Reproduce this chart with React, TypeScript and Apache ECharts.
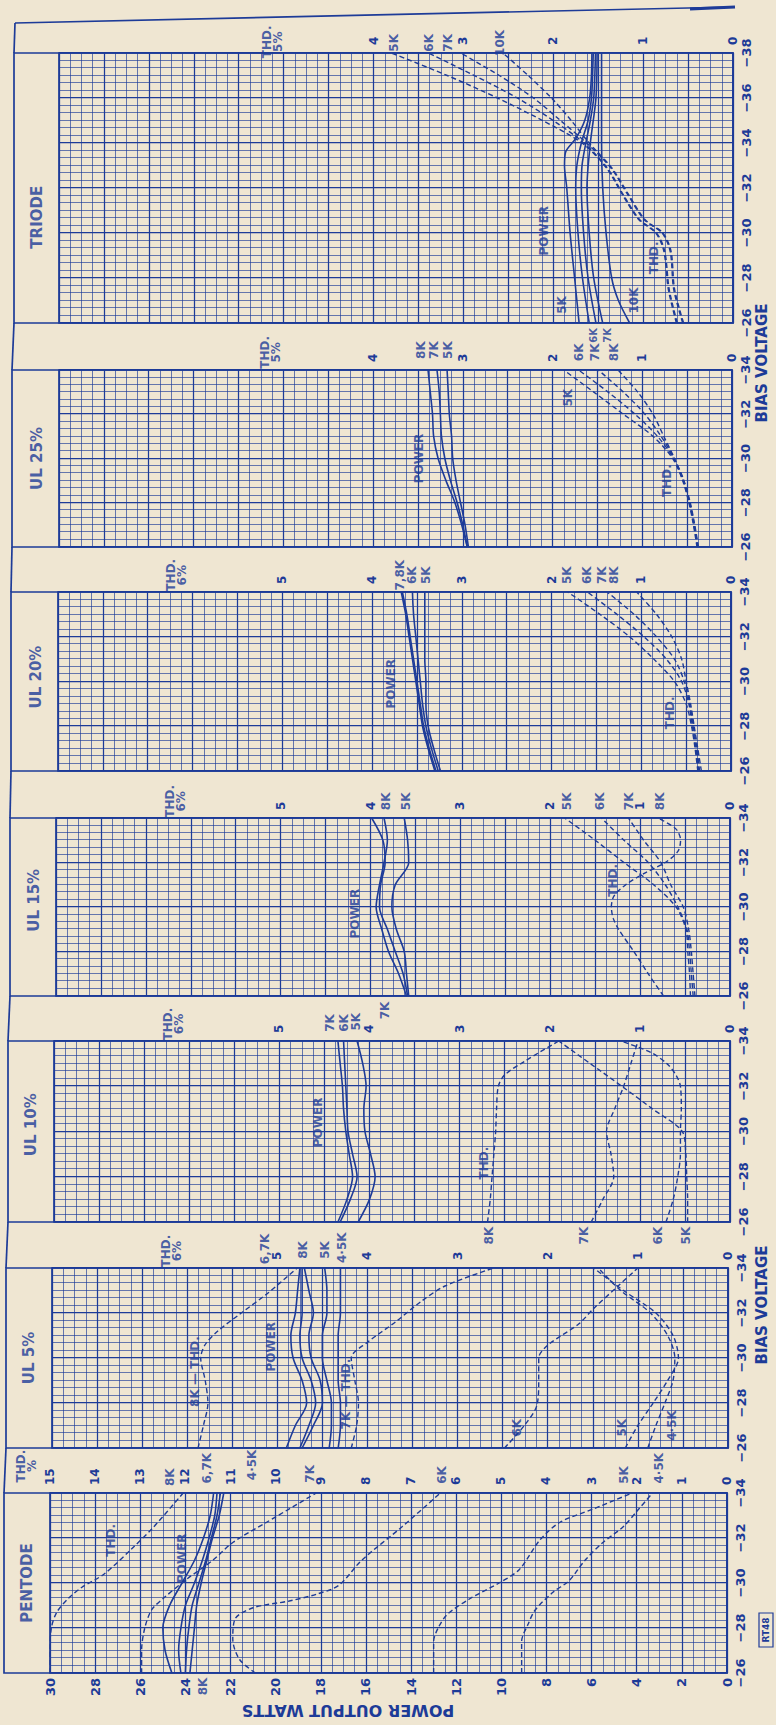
import React, { useEffect, useRef } from 'react';
import * as echarts from 'echarts';

const INK = '#1d3b98';
const PAPER = '#efe6d2';
const FONT = 'DejaVu Sans';

const PAGE_W = 776;
const PAGE_H = 1725;
// The chart is drawn upright (panels side by side) and the page turns it a quarter-turn anticlockwise.
const CHART_W = 1725;
const CHART_H = 776;

// ---------------- data ----------------
const PANEL_TITLES = ['PENTODE', 'UL 5%', 'UL 10%', 'UL 15%', 'UL 20%', 'UL 25%', 'TRIODE'];
const BIAS_MIN = [-34, -34, -34, -34, -34, -34, -38];
const THD_MAX = [15, 7.5, 7.5, 7.5, 7.5, 7.5, 7.5];
const THD_LABEL_MAX = [15, 5, 5, 5, 5, 4, 4];

// Pentode
const pentodePower8K = [[-26, 24.6], [-27, 24.9], [-28, 25.0], [-29, 24.7], [-30, 24.15], [-31, 23.6], [-32, 23.2], [-33, 22.9], [-34, 22.75]];
const pentodePower7K = [[-26, 24.2], [-27, 24.3], [-28, 24.2], [-29, 24.0], [-30, 23.6], [-31, 23.25], [-32, 22.95], [-33, 22.7], [-34, 22.6]];
const pentodePower6K = [[-26, 24.0], [-27, 23.95], [-28, 23.85], [-29, 23.7], [-30, 23.4], [-31, 23.1], [-32, 22.85], [-33, 22.6], [-34, 22.45]];
const pentodePower45K = [[-26, 23.8], [-27, 23.7], [-28, 23.6], [-29, 23.5], [-30, 23.3], [-31, 23.05], [-32, 22.8], [-33, 22.5], [-34, 22.3]];
const pentodeThd8K = [[-26, 15.0], [-27, 15.0], [-28, 14.97], [-28.7, 14.85], [-29.3, 14.6], [-29.8, 14.3], [-30.4, 13.8], [-31.5, 13.2], [-32.5, 12.7], [-34, 12.05]];
const pentodeThd7K = [[-26, 12.97], [-27, 12.97], [-28, 12.9], [-28.8, 12.75], [-29.3, 12.5], [-30.2, 11.95], [-31, 11.4], [-31.8, 10.95], [-32.7, 10.2], [-34, 9.1]];
const pentodeThd6K = [[-26, 10.45], [-26.6, 10.8], [-27.5, 10.95], [-28.4, 10.9], [-28.9, 10.5], [-29.2, 9.7], [-29.5, 9.1], [-29.9, 8.6], [-31, 8.1], [-32.5, 7.2], [-34, 6.35]];
const pentodeThd5K = [[-26, 6.5], [-27.4, 6.5], [-28, 6.4], [-28.6, 6.2], [-29.3, 5.7], [-30, 5.05], [-30.6, 4.6], [-31.9, 4.15], [-32.7, 3.7], [-33.3, 2.95], [-34, 2.1]];
const pentodeThd45K = [[-26, 4.55], [-27.4, 4.55], [-28.2, 4.4], [-28.8, 4.25], [-29.6, 3.85], [-30.1, 3.5], [-31, 3.15], [-31.8, 2.75], [-32.5, 2.3], [-33.3, 1.95], [-34, 1.65]];

// UL 5%
const ul5Power8K = [[-26, 19.6], [-27, 19.2], [-28, 18.7], [-29, 18.9], [-30, 19.3], [-31, 19.4], [-32, 19.2], [-33, 19.1], [-34, 19.0]];
const ul5Power7K = [[-26, 19.0], [-27, 18.6], [-28, 18.3], [-29, 18.5], [-30, 18.9], [-31, 19.0], [-32, 18.9], [-33, 18.9], [-34, 18.9]];
const ul5Power6K = [[-26, 18.9], [-27, 18.4], [-28, 18.0], [-29, 18.1], [-30, 18.5], [-31, 18.6], [-32, 18.4], [-33, 18.6], [-34, 18.8]];
const ul5Power5K = [[-26, 17.7], [-27, 17.6], [-28, 17.6], [-29, 17.8], [-30, 18.0], [-31, 18.0], [-32, 17.8], [-33, 17.8], [-34, 17.9]];
const ul5Power45K = [[-26, 17.3], [-27, 17.2], [-28, 17.2], [-29, 17.3], [-30, 17.3], [-31, 17.3], [-32, 17.2], [-33, 17.2], [-34, 17.2]];
const ul5Thd8K = [[-26, 5.88], [-27, 5.82], [-28, 5.77], [-29, 5.8], [-30, 5.85], [-30.6, 5.8], [-31.2, 5.66], [-32, 5.4], [-32.9, 5.1], [-34, 4.78]];
const ul5Thd7K = [[-26, 4.18], [-27, 4.12], [-28, 4.1], [-29, 4.14], [-30, 4.18], [-30.7, 4.0], [-31.6, 3.69], [-32.5, 3.41], [-33.2, 3.14], [-34, 2.6]];
const ul5Thd6K = [[-26, 2.48], [-27, 2.26], [-27.9, 2.12], [-29, 2.1], [-30, 2.1], [-30.6, 1.99], [-31.5, 1.66], [-32.2, 1.49], [-33.2, 1.22], [-34, 1.0]];
const ul5Thd5K = [[-26, 1.14], [-27, 1.0], [-28, 0.83], [-29, 0.67], [-30, 0.55], [-31, 0.61], [-32, 0.8], [-33, 1.16], [-34, 1.49]];
const ul5Thd45K = [[-26, 0.89], [-27, 0.8], [-28, 0.7], [-29, 0.61], [-30, 0.59], [-31, 0.67], [-32, 0.86], [-33, 1.19], [-34, 1.44]];

// UL 10%
const ul10Power7K = [[-26, 17.4], [-27, 17.0], [-28, 16.75], [-29, 16.9], [-30, 17.05], [-31, 17.15], [-32, 17.2], [-33, 17.3], [-34, 17.4]];
const ul10Power6K = [[-26, 17.3], [-27, 16.85], [-28, 16.55], [-29, 16.75], [-30, 16.95], [-31, 17.0], [-32, 17.05], [-33, 17.1], [-34, 17.15]];
const ul10Power5K = [[-26, 16.5], [-27, 16.0], [-28, 15.75], [-29, 15.95], [-30, 16.2], [-31, 16.25], [-32, 16.15], [-33, 16.3], [-34, 16.55]];
const ul10Thd8K = [[-26, 2.69], [-27, 2.66], [-28, 2.64], [-29, 2.62], [-30, 2.6], [-31, 2.59], [-32, 2.57], [-32.5, 2.5], [-33.1, 2.28], [-34, 1.9]];
const ul10Thd7K = [[-26, 1.54], [-27, 1.41], [-28, 1.29], [-29, 1.32], [-30, 1.37], [-31, 1.28], [-32, 1.18], [-33, 1.1], [-34, 1.02]];
const ul10Thd6K = [[-26, 0.71], [-27, 0.63], [-28, 0.58], [-29, 0.55], [-30, 0.55], [-31, 0.54], [-32, 0.55], [-32.5, 0.6], [-33, 0.7], [-33.5, 0.88], [-34, 1.21]];
const ul10Thd5K = [[-26, 0.47], [-27, 0.47], [-28, 0.48], [-29, 0.49], [-30, 0.53], [-31, 0.86], [-32, 1.2], [-33, 1.55], [-34, 1.9]];

// UL 15%
const ul15Power8K = [[-26, 14.4], [-27, 14.75], [-28, 15.2], [-29, 15.5], [-30, 15.75], [-31, 15.6], [-32, 15.4], [-33, 15.25], [-34, 15.4]];
const ul15Power7K = [[-26, 14.35], [-27, 14.55], [-28, 14.9], [-29, 15.25], [-30, 15.6], [-31, 15.55], [-32, 15.35], [-33, 15.45], [-34, 15.95]];
const ul15Power5K = [[-26, 14.3], [-27, 14.4], [-28, 14.5], [-29, 14.85], [-30, 15.05], [-31, 14.9], [-32, 14.3], [-33, 14.35], [-34, 14.5]];
const ul15Thd5K = [[-26, 0.44], [-27, 0.45], [-28, 0.47], [-29, 0.49], [-30, 0.6], [-31, 0.85], [-32, 1.18], [-33, 1.5], [-34, 1.84]];
const ul15Thd6K = [[-26, 0.41], [-27, 0.43], [-28, 0.45], [-29, 0.48], [-30, 0.58], [-31, 0.72], [-32, 0.91], [-33, 1.18], [-34, 1.43]];
const ul15Thd7K = [[-26, 0.39], [-27, 0.41], [-28, 0.43], [-29, 0.46], [-30, 0.52], [-31, 0.66], [-32, 0.77], [-33, 0.96], [-34, 1.13]];
const ul15Thd8K = [[-26, 0.74], [-27, 0.91], [-28, 1.07], [-29, 1.24], [-29.5, 1.3], [-30, 1.32], [-30.5, 1.29], [-31, 1.16], [-31.5, 0.96], [-32, 0.72], [-32.5, 0.58], [-33, 0.55], [-33.5, 0.6], [-34, 0.8]];

// UL 20%
const ul20Power8K = [[-26, 13.2], [-27, 13.5], [-28, 13.75], [-29, 13.9], [-30, 14.05], [-31, 14.2], [-32, 14.35], [-33, 14.5], [-34, 14.7]];
const ul20Power7K = [[-26, 13.15], [-27, 13.45], [-28, 13.7], [-29, 13.85], [-30, 14.0], [-31, 14.15], [-32, 14.3], [-33, 14.45], [-34, 14.65]];
const ul20Power6K = [[-26, 13.05], [-27, 13.35], [-28, 13.6], [-29, 13.75], [-30, 13.85], [-31, 13.95], [-32, 14.05], [-33, 14.15], [-34, 14.2]];
const ul20Power5K = [[-26, 12.95], [-27, 13.25], [-28, 13.5], [-29, 13.6], [-30, 13.6], [-31, 13.65], [-32, 13.65], [-33, 13.65], [-34, 13.65]];
const ul20Thd5K = [[-26, 0.37], [-27, 0.4], [-28, 0.44], [-29, 0.5], [-30, 0.63], [-31, 0.86], [-32, 1.13], [-33, 1.46], [-34, 1.82]];
const ul20Thd6K = [[-26, 0.36], [-27, 0.39], [-28, 0.43], [-29, 0.47], [-30, 0.55], [-31, 0.72], [-32, 0.97], [-33, 1.27], [-34, 1.6]];
const ul20Thd7K = [[-26, 0.35], [-27, 0.38], [-28, 0.42], [-29, 0.46], [-30, 0.52], [-31, 0.63], [-32, 0.83], [-33, 1.08], [-34, 1.38]];
const ul20Thd8K = [[-26, 0.33], [-27, 0.37], [-28, 0.41], [-29, 0.45], [-30, 0.5], [-31, 0.55], [-32, 0.66], [-33, 0.83], [-34, 1.05]];

// UL 25%
const ul25Power8K = [[-26, 11.8], [-27, 12.05], [-28, 12.35], [-29, 12.75], [-30, 13.1], [-31, 13.3], [-32, 13.35], [-33, 13.45], [-34, 13.55]];
const ul25Power7K = [[-26, 11.8], [-27, 12.0], [-28, 12.25], [-29, 12.55], [-30, 12.8], [-31, 12.95], [-32, 13.0], [-33, 13.05], [-34, 13.15]];
const ul25Power5K = [[-26, 11.75], [-27, 11.9], [-28, 12.1], [-29, 12.3], [-30, 12.45], [-31, 12.5], [-32, 12.6], [-33, 12.65], [-34, 12.7]];
const ul25Thd5K = [[-26, 0.39], [-27, 0.43], [-28, 0.48], [-29, 0.55], [-30, 0.66], [-31, 0.88], [-32, 1.21], [-33, 1.54], [-34, 1.875]];
const ul25Thd6K = [[-26, 0.385], [-27, 0.425], [-28, 0.475], [-29, 0.545], [-30, 0.65], [-31, 0.83], [-32, 1.08], [-33, 1.38], [-34, 1.71]];
const ul25Thd7K = [[-26, 0.38], [-27, 0.42], [-28, 0.47], [-29, 0.54], [-30, 0.645], [-31, 0.79], [-32, 0.97], [-33, 1.21], [-34, 1.49]];
const ul25Thd8K = [[-26, 0.375], [-27, 0.415], [-28, 0.465], [-29, 0.535], [-30, 0.64], [-31, 0.76], [-32, 0.88], [-33, 1.05], [-34, 1.27]];

// Triode
const triodePower5K = [[-26, 6.85], [-28, 7.05], [-30, 7.25], [-32, 7.4], [-33, 7.5], [-33.6, 7.45], [-34.2, 7.0], [-35, 6.6], [-36, 6.38], [-37, 6.3], [-38, 6.28]];
const triodePower6K = [[-26, 6.4], [-28, 6.7], [-30, 6.9], [-32, 7.0], [-33, 6.95], [-34, 6.75], [-35, 6.45], [-36, 6.3], [-37, 6.25], [-38, 6.22]];
const triodePower7K = [[-26, 6.1], [-28, 6.45], [-30, 6.65], [-32, 6.75], [-33, 6.72], [-34, 6.55], [-35, 6.35], [-36, 6.2], [-37, 6.15], [-38, 6.12]];
const triodePower8K = [[-26, 5.8], [-28, 6.2], [-30, 6.4], [-32, 6.5], [-34, 6.35], [-36, 6.1], [-38, 6.05]];
const triodePower10K = [[-26, 4.6], [-27, 5.1], [-28, 5.4], [-30, 5.65], [-32, 5.8], [-34, 5.85], [-36, 5.85], [-38, 5.85]];
const triodeThd5K = [[-26, 0.63], [-27.5, 0.72], [-29.2, 0.77], [-30, 0.86], [-30.6, 1.05], [-31.7, 1.23], [-32.9, 1.41], [-34, 1.68], [-35, 2.12], [-36, 2.62], [-37, 3.18], [-38, 3.8]];
const triodeThd6K = [[-26, 0.62], [-27.5, 0.71], [-29.2, 0.76], [-30, 0.85], [-30.6, 1.04], [-31.7, 1.22], [-32.9, 1.4], [-34, 1.66], [-35, 2.0], [-36, 2.4], [-37, 2.88], [-38, 3.39]];
const triodeThd7K = [[-26, 0.56], [-27.5, 0.66], [-29.2, 0.7], [-30, 0.79], [-30.6, 0.99], [-31.7, 1.17], [-32.9, 1.36], [-34, 1.63], [-35, 1.92], [-36, 2.22], [-37, 2.6], [-38, 3.03]];
const triodeThd10K = [[-26, 0.55], [-27.5, 0.65], [-29.2, 0.69], [-30, 0.78], [-30.6, 0.98], [-31.7, 1.16], [-32.9, 1.35], [-34, 1.6], [-35, 1.8], [-36, 2.02], [-37, 2.28], [-38, 2.56]];

const POWER_CURVES = [
  [pentodePower8K, pentodePower7K, pentodePower6K, pentodePower45K],
  [ul5Power8K, ul5Power7K, ul5Power6K, ul5Power5K, ul5Power45K],
  [ul10Power7K, ul10Power6K, ul10Power5K],
  [ul15Power8K, ul15Power7K, ul15Power5K],
  [ul20Power8K, ul20Power7K, ul20Power6K, ul20Power5K],
  [ul25Power8K, ul25Power7K, ul25Power5K],
  [triodePower5K, triodePower6K, triodePower7K, triodePower8K, triodePower10K],
];
const THD_CURVES = [
  [pentodeThd8K, pentodeThd7K, pentodeThd6K, pentodeThd5K, pentodeThd45K],
  [ul5Thd8K, ul5Thd7K, ul5Thd6K, ul5Thd5K, ul5Thd45K],
  [ul10Thd8K, ul10Thd7K, ul10Thd6K, ul10Thd5K],
  [ul15Thd5K, ul15Thd6K, ul15Thd7K, ul15Thd8K],
  [ul20Thd5K, ul20Thd6K, ul20Thd7K, ul20Thd8K],
  [ul25Thd5K, ul25Thd6K, ul25Thd7K, ul25Thd8K],
  [triodeThd5K, triodeThd6K, triodeThd7K, triodeThd10K],
];

// Text annotations anchored in data space: [panel, bias V, power-scale W, text, kind]
const ANNOTATIONS = [
  [0, -30.0, 31.0, 'PENTODE', 't'],
  [0, -31.9, 27.3, 'THD.', 'l'],
  [0, -31.1, 24.15, 'POWER', 'l'],
  [0, -35.2, 31.05, 'THD.\n%', 'l'],
  [0, -34.7, 24.7, '8K', 'l'],
  [0, -35.1, 23.05, '6,7K', 'l'],
  [0, -35.25, 21.05, '4·5K', 'l'],
  [0, -34.85, 18.5, '7K', 'l'],
  [0, -34.8, 12.65, '6K', 'l'],
  [0, -34.8, 4.57, '5K', 'l'],
  [0, -35.1, 3.0, '4·5K', 'l'],
  [0, -25.4, 23.2, '8K', 'l'],

  [1, -30.0, 31.0, 'UL 5%', 't'],
  [1, -30.5, 20.3, 'POWER', 'l'],
  [1, -29.4, 23.65, '8K — THD.', 'l'],
  [1, -28.4, 16.95, '7K — THD.', 'l'],
  [1, -26.9, 9.35, '6K', 'l'],
  [1, -26.9, 4.7, '5K', 'l'],
  [1, -27.0, 2.5, '4·5K', 'l'],
  [1, -34.75, 24.7, 'THD.\n6%', 'l'],
  [1, -34.85, 20.55, '6,7K', 'l'],
  [1, -34.8, 18.85, '8K', 'l'],
  [1, -34.8, 17.9, '5K', 'l'],
  [1, -34.9, 17.15, '4·5K', 'l'],

  [2, -30.3, 31.0, 'UL 10%', 't'],
  [2, -30.4, 18.3, 'POWER', 'l'],
  [2, -28.6, 10.9, 'THD.', 'l'],
  [2, -34.75, 24.7, 'THD.\n6%', 'l'],
  [2, -34.8, 17.75, '7K', 'l'],
  [2, -34.8, 17.15, '6K', 'l'],
  [2, -34.85, 16.6, '5K', 'l'],
  [2, -25.4, 10.7, '8K', 'l'],
  [2, -25.4, 6.5, '7K', 'l'],
  [2, -25.4, 3.2, '6K', 'l'],
  [2, -25.4, 1.95, '5K', 'l'],

  [3, -30.3, 31.0, 'UL 15%', 't'],
  [3, -29.7, 16.7, 'POWER', 'l'],
  [3, -31.2, 5.2, 'THD.', 'l'],
  [3, -34.75, 24.7, 'THD.\n6%', 'l'],
  [3, -34.75, 15.3, '8K', 'l'],
  [3, -34.75, 14.4, '5K', 'l'],
  [3, -34.75, 7.25, '5K', 'l'],
  [3, -34.75, 5.8, '6K', 'l'],
  [3, -34.75, 4.5, '7K', 'l'],
  [3, -34.75, 3.1, '8K', 'l'],
  [3, -25.35, 15.35, '7K', 'l'],

  [4, -30.2, 31.0, 'UL 20%', 't'],
  [4, -29.9, 15.15, 'POWER', 'l'],
  [4, -28.6, 2.7, 'THD.', 'l'],
  [4, -34.75, 24.7, 'THD.\n6%', 'l'],
  [4, -34.75, 14.75, '7,8K', 'l'],
  [4, -34.75, 14.2, '6K', 'l'],
  [4, -34.75, 13.6, '5K', 'l'],
  [4, -34.75, 7.3, '5K', 'l'],
  [4, -34.75, 6.4, '6K', 'l'],
  [4, -34.75, 5.75, '7K', 'l'],
  [4, -34.75, 5.2, '8K', 'l'],

  [5, -30.0, 31.0, 'UL 25%', 't'],
  [5, -30.0, 13.95, 'POWER', 'l'],
  [5, -29.0, 2.9, 'THD.', 'l'],
  [5, -32.75, 7.3, '5K', 'l'],
  [5, -34.8, 20.55, 'THD.\n5%', 'l'],
  [5, -34.9, 13.85, '8K', 'l'],
  [5, -34.9, 13.3, '7K', 'l'],
  [5, -34.9, 12.65, '5K', 'l'],
  [5, -34.8, 6.8, '6K', 'l'],
  [5, -34.8, 6.1, '7K', 'l'],
  [5, -34.8, 5.25, '8K', 'l'],

  [6, -30.7, 31.0, 'TRIODE', 't'],
  [6, -30.1, 8.4, 'POWER', 'l'],
  [6, -28.9, 3.5, 'THD.', 'l'],
  [6, -26.8, 7.6, '5K', 'l'],
  [6, -27.0, 4.4, '10K', 'l'],
  [6, -38.5, 20.5, 'THD.\n5%', 'l'],
  [6, -38.45, 15.1, '5K', 'l'],
  [6, -38.45, 13.55, '6K', 'l'],
  [6, -38.45, 12.7, '7K', 'l'],
  [6, -38.45, 10.35, '10K', 'l'],
  [6, -25.45, 6.2, '6K', 's'],
  [6, -25.45, 5.6, '7K', 's'],
];

// ---------------- layout (upright drawing, px) ----------------
const LAYOUT = [
  { left: 52, right: 232, top: 50, bottom: 727, frame: 4 },
  { left: 277, right: 457, top: 52, bottom: 728, frame: 6 },
  { left: 503, right: 684, top: 54, bottom: 730, frame: 8 },
  { left: 729, right: 907, top: 56, bottom: 730, frame: 10 },
  { left: 954, right: 1133, top: 58, bottom: 731, frame: 11 },
  { left: 1178, right: 1355, top: 59, bottom: 732, frame: 12 },
  { left: 1402, right: 1672, top: 59, bottom: 733, frame: 14 },
];

const KIND_STYLE: any = {
  t: { fontSize: 15, fontWeight: 'bold' },
  l: { fontSize: 12, fontWeight: 'bold', lineHeight: 11 },
  s: { fontSize: 10, fontWeight: 'bold' },
};

function buildOption() {
  const grid = LAYOUT.map((p) => ({
    left: p.left,
    top: p.top,
    width: p.right - p.left,
    height: p.bottom - p.top,
    show: true,
    borderColor: INK,
    borderWidth: 1.7,
    backgroundColor: 'transparent',
  }));

  const majorLine = { show: true, lineStyle: { color: INK, width: 1.25 } };
  const minorLine = { show: true, lineStyle: { color: INK, width: 0.7, opacity: 0.95 } };

  const xAxis = LAYOUT.map((p, i) => ({
    type: 'value',
    gridIndex: i,
    min: BIAS_MIN[i],
    max: -26,
    interval: 2,
    inverse: true,
    axisLine: { show: false },
    axisTick: { show: false },
    axisLabel: {
      color: INK,
      fontFamily: FONT,
      fontSize: 13,
      fontWeight: 'bold',
      margin: 7,
      formatter: (v: number) => '\u2212' + Math.abs(v),
    },
    splitLine: majorLine,
    minorTick: { show: false, splitNumber: 6 },
    minorSplitLine: minorLine,
  }));

  const yAxis: any[] = [];
  LAYOUT.forEach((p, i) => {
    yAxis.push({
      type: 'value',
      gridIndex: i,
      min: 0,
      max: 30,
      interval: 2,
      position: 'left',
      axisLine: { show: false },
      axisTick: { show: false },
      axisLabel: {
        show: i === 0,
        color: INK,
        fontFamily: FONT,
        fontSize: 13,
        fontWeight: 'bold',
        margin: 5,
      },
      splitLine: majorLine,
      minorTick: { show: false, splitNumber: 4 },
      minorSplitLine: minorLine,
    });
    yAxis.push({
      type: 'value',
      gridIndex: i,
      min: 0,
      max: THD_MAX[i],
      interval: 1,
      position: 'right',
      axisLine: { show: false },
      axisTick: { show: false },
      splitLine: { show: false },
      axisLabel: {
        color: INK,
        fontFamily: FONT,
        fontSize: 12,
        fontWeight: 'bold',
        margin: 8,
        formatter: (v: number) => (Number.isInteger(v) && v <= THD_LABEL_MAX[i] ? String(v) : ''),
      },
    });
  });

  const series: any[] = [];
  LAYOUT.forEach((p, i) => {
    POWER_CURVES[i].forEach((curve, k) => {
      series.push({
        type: 'line',
        name: PANEL_TITLES[i] + ' power ' + k,
        xAxisIndex: i,
        yAxisIndex: 2 * i,
        data: curve,
        smooth: 0.3,
        symbol: 'none',
        silent: true,
        lineStyle: { color: INK, width: 1.6 },
        z: 3,
      });
    });
    THD_CURVES[i].forEach((curve, k) => {
      series.push({
        type: 'line',
        name: PANEL_TITLES[i] + ' thd ' + k,
        xAxisIndex: i,
        yAxisIndex: 2 * i + 1,
        data: curve,
        smooth: 0.3,
        symbol: 'none',
        silent: true,
        lineStyle: { color: INK, width: 1.4, type: [5, 3] },
        z: 3,
      });
    });
    series.push({
      type: 'scatter',
      name: PANEL_TITLES[i] + ' notes',
      xAxisIndex: i,
      yAxisIndex: 2 * i,
      clip: false,
      silent: true,
      symbolSize: 1,
      itemStyle: { color: 'rgba(0,0,0,0)' },
      z: 6,
      data: ANNOTATIONS.filter((a) => a[0] === i).map((a) => ({
        value: [a[1], a[2]],
        label: {
          show: true,
          position: 'inside',
          formatter: a[3],
          color: INK,
          fontFamily: FONT,
          ...KIND_STYLE[a[4] as string],
        },
      })),
    });
  });

  const graphic: any[] = [];
  LAYOUT.forEach((p, i) => {
    graphic.push({
      type: 'rect',
      silent: true,
      z: 20,
      shape: { x: p.left, y: p.frame, width: p.right - p.left, height: p.bottom - p.frame },
      style: { fill: 'none', stroke: INK, lineWidth: 1.7 },
    });
    if (i < LAYOUT.length - 1) {
      const n = LAYOUT[i + 1];
      graphic.push({
        type: 'line',
        silent: true,
        z: 20,
        shape: { x1: p.right, y1: p.frame, x2: n.left, y2: n.frame },
        style: { stroke: INK, lineWidth: 1.7 },
      });
    }
  });
  const last = LAYOUT[LAYOUT.length - 1];
  graphic.push({
    type: 'line', silent: true, z: 20,
    shape: { x1: last.right, y1: last.frame, x2: 1702, y2: 15 },
    style: { stroke: INK, lineWidth: 1.7 },
  });
  graphic.push({
    type: 'line', silent: true, z: 20,
    shape: { x1: 1702, y1: 15, x2: 1718, y2: 733 },
    style: { stroke: INK, lineWidth: 1.7 },
  });
  graphic.push({
    type: 'line', silent: true, z: 20,
    shape: { x1: 1716, y1: 690, x2: 1718, y2: 735 },
    style: { stroke: INK, lineWidth: 3 },
  });
  graphic.push({
    type: 'text', silent: true, z: 20,
    x: 15, y: 348, rotation: Math.PI / 2,
    style: {
      text: 'POWER OUTPUT WATTS', fill: INK, fontFamily: FONT, fontSize: 16, fontWeight: 'bold',
      align: 'center', verticalAlign: 'middle', textAlign: 'center', textVerticalAlign: 'middle',
    },
  });
  [420, 1362].forEach((x) => {
    graphic.push({
      type: 'text', silent: true, z: 20,
      x, y: 762,
      style: {
        text: 'BIAS VOLTAGE', fill: INK, fontFamily: FONT, fontSize: 15, fontWeight: 'bold',
        align: 'center', verticalAlign: 'middle', textAlign: 'center', textVerticalAlign: 'middle',
      },
    });
  });
  graphic.push({
    type: 'rect', silent: true, z: 20,
    shape: { x: 78, y: 759, width: 34, height: 14 },
    style: { fill: 'none', stroke: INK, lineWidth: 1.2 },
  });
  graphic.push({
    type: 'text', silent: true, z: 20,
    x: 95, y: 766,
    style: {
      text: 'RT48', fill: INK, fontFamily: FONT, fontSize: 9, fontWeight: 'bold',
      align: 'center', verticalAlign: 'middle', textAlign: 'center', textVerticalAlign: 'middle',
    },
  });

  return {
    animation: false,
    backgroundColor: PAPER,
    textStyle: { fontFamily: FONT },
    grid,
    xAxis,
    yAxis,
    series,
    graphic,
  };
}

export default function App() {
  const ref = useRef<HTMLDivElement>(null);
  useEffect(() => {
    if (!ref.current) return;
    const chart = echarts.init(ref.current, null, { renderer: 'svg', width: CHART_W, height: CHART_H });
    chart.setOption(buildOption() as any);
    return () => chart.dispose();
  }, []);
  return (
    <div
      style={{
        position: 'absolute',
        left: 0,
        top: 0,
        width: PAGE_W,
        height: PAGE_H,
        overflow: 'hidden',
        background: PAPER,
      }}
    >
      <div
        ref={ref}
        style={{
          position: 'absolute',
          left: 0,
          top: 0,
          width: CHART_W,
          height: CHART_H,
          transform: `translate(0px, ${PAGE_H}px) rotate(-90deg)`,
          transformOrigin: '0 0',
        }}
      />
    </div>
  );
}
